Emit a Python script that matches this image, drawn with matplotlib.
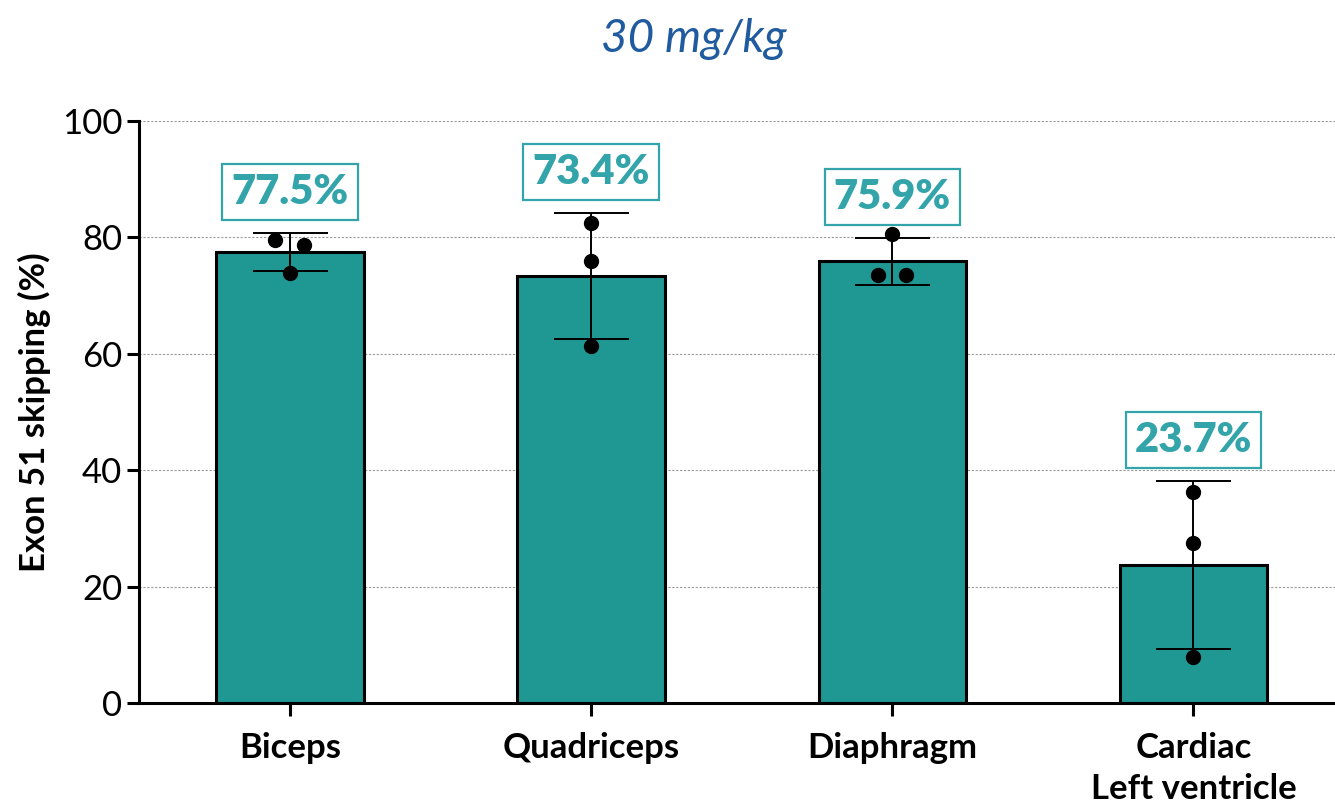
import numpy as np
import matplotlib
matplotlib.use('Agg')
import matplotlib.pyplot as plt

# data
tissues = ['Biceps', 'Quadriceps', 'Diaphragm', 'Cardiac\nLeft ventricle']
means = [77.5, 73.4, 75.9, 23.7]
sds = [3.2, 10.8, 4.0, 14.4]
points = [
    [79.6, 78.7, 73.9],
    [82.5, 75.9, 61.3],
    [80.6, 73.6, 73.6],
    [36.3, 27.5, 7.9],
]
point_offsets = [
    [-0.05, 0.047, 0.0],
    [0.0, 0.0, 0.0],
    [0.0, -0.047, 0.047],
    [0.0, 0.0, 0.0],
]
labels = ['77.5%', '73.4%', '75.9%', '23.7%']
yticks = [0, 20, 40, 60, 80, 100]

BAR_COLOR = '#1f9792'
LABEL_COLOR = '#33a5aa'
TITLE_COLOR = '#1f5b9e'

plt.rcParams['font.family'] = ['Lato', 'DejaVu Sans']

fig = plt.figure(figsize=(13.35, 8.07), dpi=100)
ax = fig.add_axes([0.104, 0.129, 0.896, 0.721])

x = np.arange(len(tissues))
ax.bar(x, means, width=0.49, color=BAR_COLOR, edgecolor='black',
       linewidth=2.2, zorder=2)
ax.errorbar(x, means, yerr=sds, fmt='none', ecolor='black', elinewidth=1.4,
            capsize=27, capthick=1.4, zorder=3)
for i, vals in enumerate(points):
    ax.plot(x[i] + np.array(point_offsets[i]), vals, 'o', color='black',
            markersize=10, zorder=4)

for i, lab in enumerate(labels):
    ax.annotate(lab, xy=(x[i], means[i] + sds[i]), xytext=(0, 16),
                textcoords='offset points', ha='center', va='bottom',
                fontsize=30, fontweight='heavy', color=LABEL_COLOR,
                bbox=dict(boxstyle='square,pad=0.22', fc='white',
                          ec=LABEL_COLOR, lw=1.6))

ax.set_xlim(-0.502, 3.47)
ax.set_ylim(0, 100)
ax.set_yticks(yticks)
ax.set_xticks(x)
ax.set_xticklabels(tissues, fontsize=25, fontweight='bold', linespacing=1.35)
ax.tick_params(axis='y', labelsize=25, width=2.2, length=9, pad=3)
ax.tick_params(axis='x', width=2.2, length=9, pad=12)
ax.yaxis.grid(True, linestyle=(0, (2, 1.5)), color='#9a9a9a', linewidth=0.8,
              zorder=0)
ax.set_axisbelow(True)
for side in ['top', 'right']:
    ax.spines[side].set_visible(False)
for side in ['left', 'bottom']:
    ax.spines[side].set_linewidth(2.2)

ax.set_ylabel('Exon 51 skipping (%)', fontsize=25, fontweight='bold',
              labelpad=8)
fig.text(0.52, 0.952, '30 mg/kg', ha='center', va='center', fontsize=33,
         style='italic', color=TITLE_COLOR)

fig.savefig('out.png', dpi=100)
